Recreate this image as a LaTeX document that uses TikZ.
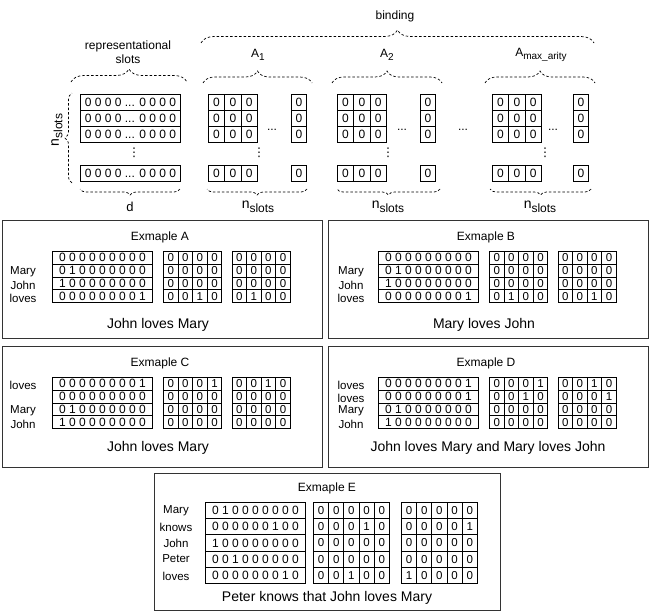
\documentclass[tikz,border=0pt]{standalone}
\usepackage{fontspec}
\setmainfont{Liberation Sans}
\newfontfamily\djv{DejaVu Sans}
\usetikzlibrary{decorations.pathreplacing}
\newcommand\myfs[1]{\fontsize{#1}{#1}\selectfont}
\newcommand\mysub[2]{{\myfs{#1}\raisebox{-3.5pt}{#2}}}
\newcommand\vdts{{\djv\myfs{12}⋮}}
\newcommand\exrows[5]{%
  \foreach \s [count=\i] in {#5} {%
    \node[rowbox, minimum width=100pt, minimum height=#4pt, anchor=north west] (#1r\i) at (#2, {#3+(\i-1)*#4}) {\s};
  }}
\newcommand\exgrid[6]{%
  \foreach \rw [count=\i] in {#6} {%
    \foreach \v [count=\j] in \rw {%
      \node[cellbox, minimum width=#4pt, minimum height=#5pt, anchor=north west] (#1-\i-\j) at ({#2+(\j-1)*#4}, {#3+(\i-1)*#5}) {\v};
    }}}
\newcommand\agroup[3]{%
  \foreach \y [count=\i] in {94,110,126,165} {%
    \foreach \c in {0,1,2} {\node[cellbox, font=\myfs{12}, minimum width=16.3pt, minimum height=16pt, anchor=north west] (#1-\i-\c) at ({#2+\c*16.3}, \y) {0};}
    \node[cellbox, font=\myfs{12}, minimum width=15pt, minimum height=16pt, anchor=north west] (#1-\i-s) at (#3, \y) {0};
  }}
\begin{document}
\begin{tikzpicture}[x=1pt,y=-1pt,
  every node/.style={font=\myfs{12}},
  rowbox/.style={draw, line width=0.8pt, inner sep=0pt, font=\myfs{12}},
  cellbox/.style={draw, line width=0.8pt, inner sep=0pt, font=\myfs{11.5}},
  exbox/.style={draw=black!80, line width=1pt},
  brc/.style={decorate, decoration={brace, amplitude=#1}, line width=0.7pt, dash pattern=on 2.5pt off 2pt},
  lbl/.style={font=\myfs{11.5}},
  capt/.style={font=\myfs{14}},
  ttl/.style={font=\myfs{12}}]
\useasboundingbox (0,0) rectangle (650,613);

% ---------- top part ----------
\foreach \y [count=\i] in {94,110,126,165}
  \node[rowbox, minimum width=100pt, minimum height=16pt, anchor=north west] (rep\i) at (80,\y) {0 0 0 0 ... 0 0 0 0};
\node (repv) at (134,153) {\vdts};

\agroup{ga}{208}{291}
\agroup{gb}{337}{420}
\agroup{gc}{492}{573}
\node (gae) at (272,130) {...};
\node (gbe) at (402,130) {...};
\node (gce) at (553,130) {...};
\node (mide) at (463,130) {...};
\node (gav) at (259,153) {\vdts};
\node (gbv) at (388,153) {\vdts};
\node (gcv) at (545,153) {\vdts};

% braces
\draw[brc=13] (201,43) -- (594,43);
\draw[brc=13] (71,82) -- (187,82);
\draw[brc=12] (203,83) -- (312,83);
\draw[brc=12] (332,83) -- (442,83);
\draw[brc=12] (485,83) -- (595,83);
\draw[brc=7] (72,183) -- (72,93);
\draw[brc=6] (180,189) -- (80,189);
\draw[brc=6] (307,189) -- (207,189);
\draw[brc=6] (440,189) -- (337,189);
\draw[brc=6] (591,189) -- (490,189);

\node (binding) at (395,16) {binding};
\node[align=center, font=\fontsize{12}{14}\selectfont] (repl) at (128,52) {representational\\slots};
\node (la1) at (258,55) {A\mysub{10}{1}};
\node (la2) at (387,55) {A\mysub{10}{2}};
\node (la3) at (541,55) {A\mysub{10}{max\_arity}};
\node[font=\myfs{13}] (ld) at (130,207) {d};
\node (ln1) at (258,207) {{\myfs{14}n}\mysub{12}{slots}};
\node (ln2) at (388,207) {{\myfs{14}n}\mysub{12}{slots}};
\node (ln3) at (540,207) {{\myfs{14}n}\mysub{12}{slots}};
\node[rotate=90] (ln0) at (57,130) {{\myfs{14}n}\mysub{12}{slots}};

% ---------- Example A ----------
\draw[exbox] (2,220) rectangle (322,338);
\node[ttl] (tA) at (160,237) {Exmaple A};
\exrows{A}{52}{251}{12.8}{0 0 0 0 0 0 0 0 0, 0 1 0 0 0 0 0 0 0, 1 0 0 0 0 0 0 0 0, 0 0 0 0 0 0 0 0 1}
\exgrid{Ab}{163}{251}{14.6}{12.8}{{0,0,0,0},{0,0,0,0},{0,0,0,0},{0,0,1,0}}
\exgrid{Ac}{231.5}{251}{14.6}{12.8}{{0,0,0,0},{0,0,0,0},{0,0,0,0},{0,1,0,0}}
\node[lbl] (lA2) at (23,272) {Mary};
\node[lbl] (lA3) at (23,285) {John};
\node[lbl] (lA4) at (23,298) {loves};
\node[capt] (cA) at (158,325) {John loves Mary};

% ---------- Example B ----------
\draw[exbox] (328,220) rectangle (648,338);
\node[ttl] (tB) at (486,237) {Exmaple B};
\exrows{B}{378}{251}{12.8}{0 0 0 0 0 0 0 0 0, 0 1 0 0 0 0 0 0 0, 1 0 0 0 0 0 0 0 0, 0 0 0 0 0 0 0 0 1}
\exgrid{Bb}{489}{251}{14.6}{12.8}{{0,0,0,0},{0,0,0,0},{0,0,0,0},{0,1,0,0}}
\exgrid{Bc}{557.5}{251}{14.6}{12.8}{{0,0,0,0},{0,0,0,0},{0,0,0,0},{0,0,1,0}}
\node[lbl] (lB2) at (351,272) {Mary};
\node[lbl] (lB3) at (351,285) {John};
\node[lbl] (lB4) at (351,298) {loves};
\node[capt] (cB) at (484,325) {Mary loves John};

% ---------- Example C ----------
\draw[exbox] (2,346) rectangle (322,467);
\node[ttl] (tC) at (160,363) {Exmaple C};
\exrows{C}{52}{377}{12.8}{0 0 0 0 0 0 0 0 1, 0 0 0 0 0 0 0 0 0, 0 1 0 0 0 0 0 0 0, 1 0 0 0 0 0 0 0 0}
\exgrid{Cb}{163}{377}{14.6}{12.8}{{0,0,0,1},{0,0,0,0},{0,0,0,0},{0,0,0,0}}
\exgrid{Cc}{231.5}{377}{14.6}{12.8}{{0,0,1,0},{0,0,0,0},{0,0,0,0},{0,0,0,0}}
\node[lbl] (lC1) at (23,385) {loves};
\node[lbl] (lC3) at (23,411) {Mary};
\node[lbl] (lC4) at (23,424) {John};
\node[capt] (cC) at (158,448) {John loves Mary};

% ---------- Example D ----------
\draw[exbox] (328,346) rectangle (648,467);
\node[ttl] (tD) at (486,363) {Exmaple D};
\exrows{D}{378}{377}{12.8}{0 0 0 0 0 0 0 0 1, 0 0 0 0 0 0 0 0 1, 0 1 0 0 0 0 0 0 0, 1 0 0 0 0 0 0 0 0}
\exgrid{Db}{489}{377}{14.6}{12.8}{{0,0,0,1},{0,0,1,0},{0,0,0,0},{0,0,0,0}}
\exgrid{Dc}{557.5}{377}{14.6}{12.8}{{0,0,1,0},{0,0,0,1},{0,0,0,0},{0,0,0,0}}
\node[lbl] (lD1) at (351,385) {loves};
\node[lbl] (lD2) at (351,398) {loves};
\node[lbl] (lD3) at (351,411) {Mary};
\node[lbl] (lD4) at (351,424) {John};
\node[capt] (cD) at (488,448) {John loves Mary and Mary loves John};

% ---------- Example E ----------
\draw[exbox] (154,473) rectangle (500,610);
\node[ttl] (tE) at (327,488) {Exmaple E};
\exrows{E}{205}{502}{16.2}{0 1 0 0 0 0 0 0 0, 0 0 0 0 0 0 1 0 0, 1 0 0 0 0 0 0 0 0, 0 0 1 0 0 0 0 0 0, 0 0 0 0 0 0 0 1 0}
\exgrid{Eb}{313}{502}{15.2}{16.2}{{0,0,0,0,0},{0,0,0,1,0},{0,0,0,0,0},{0,0,0,0,0},{0,0,1,0,0}}
\exgrid{Ec}{401}{502}{15.2}{16.2}{{0,0,0,0,0},{0,0,0,0,1},{0,0,0,0,0},{0,0,0,0,0},{1,0,0,0,0}}
\node[lbl] (lE1) at (176,511) {Mary};
\node[lbl] (lE2) at (176,527) {knows};
\node[lbl] (lE3) at (176,543) {John};
\node[lbl] (lE4) at (176,559) {Peter};
\node[lbl] (lE5) at (176,576) {loves};
\node[capt] (cE) at (327,598) {Peter knows that John loves Mary};
\end{tikzpicture}
\end{document}
